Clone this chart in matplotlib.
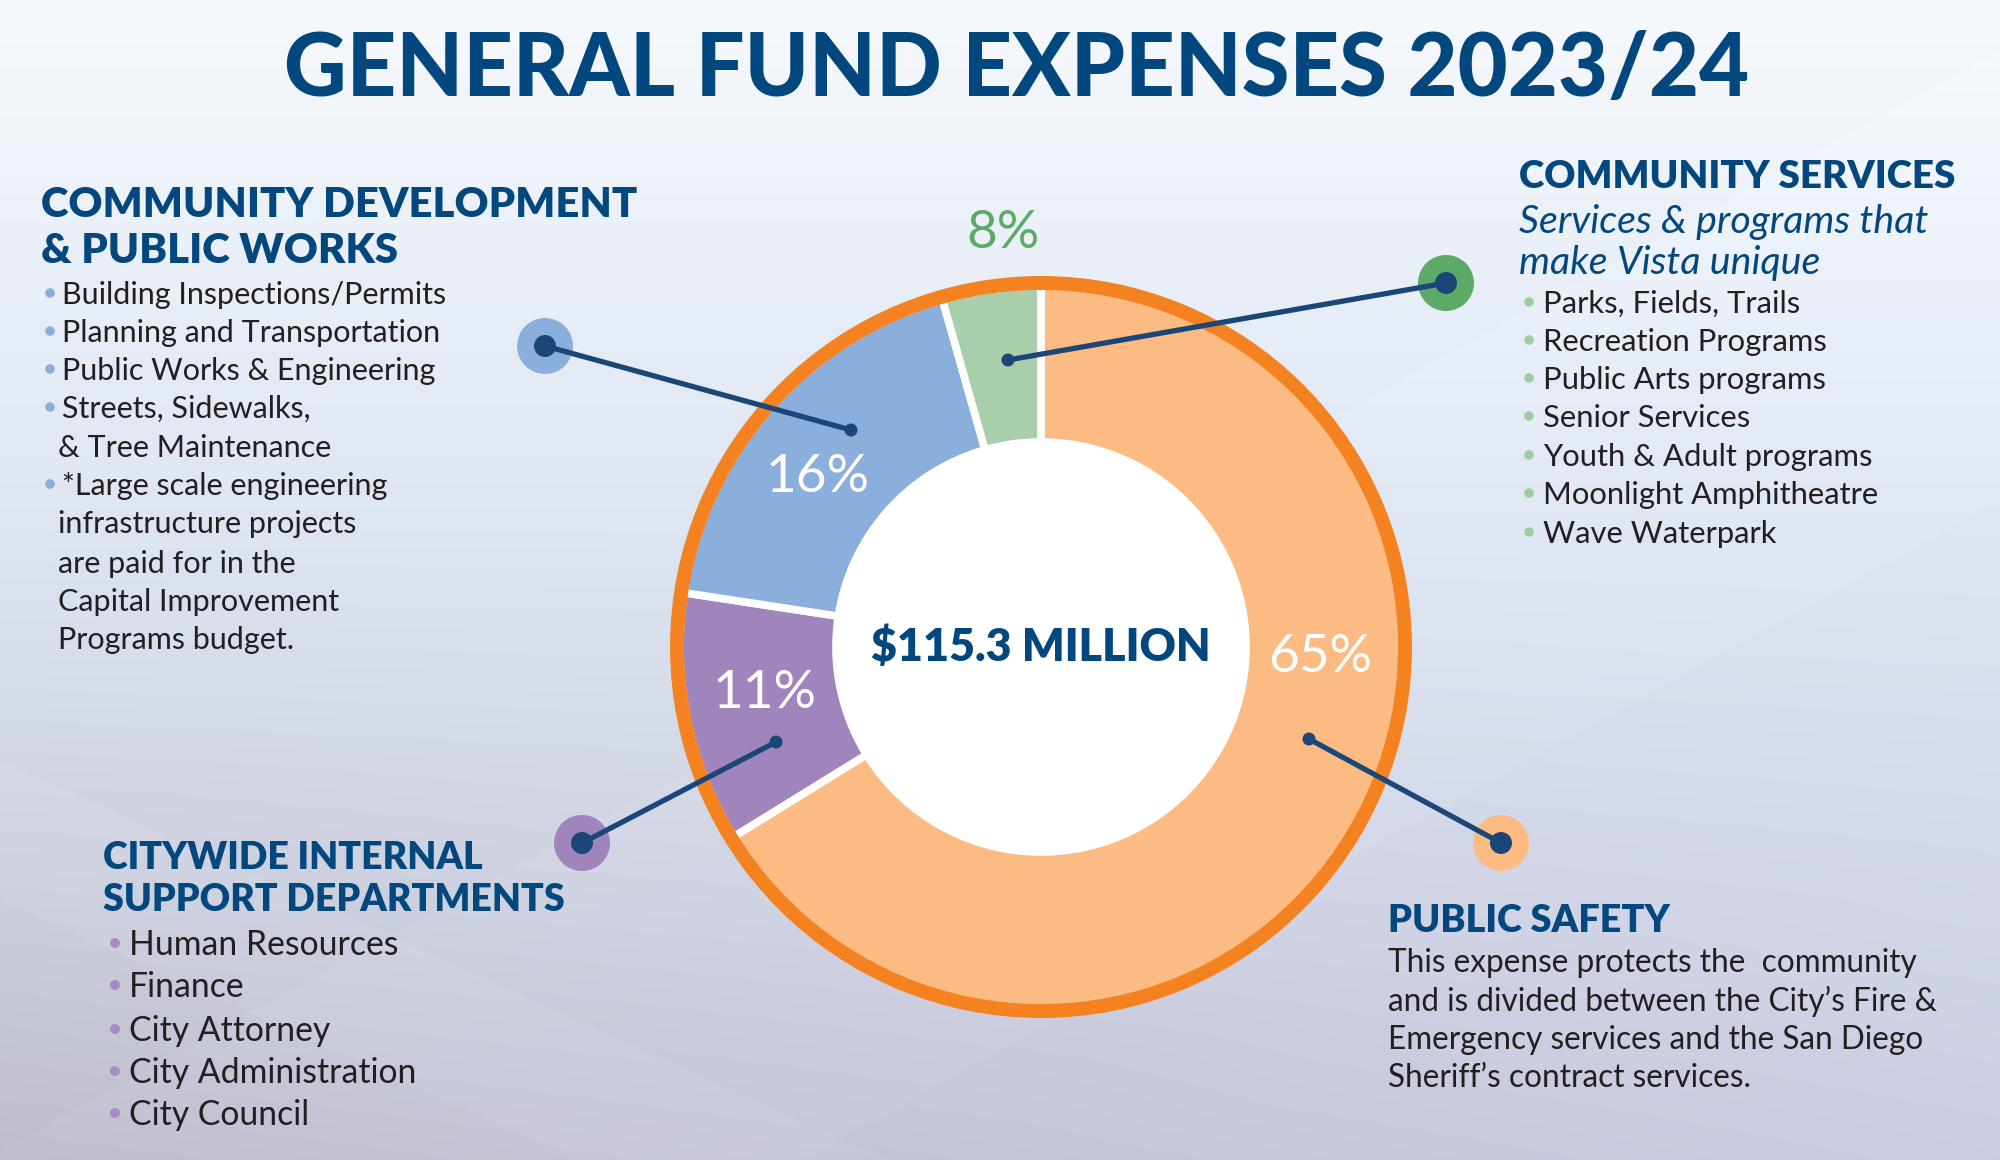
import numpy as np
import matplotlib
matplotlib.use("Agg")
import matplotlib.pyplot as plt
from matplotlib.patches import Circle, Wedge

# ---------------- data ----------------
title = "GENERAL FUND EXPENSES 2023/24"
center_label = "$115.3 MILLION"
categories = ["Public Safety", "Citywide Internal Support Departments",
              "Community Development & Public Works", "Community Services"]
pct_labels = ["65%", "11%", "16%", "8%"]
wedge_share = [66.2, 11.2, 18.2, 4.4]

cdpw_heading = ["COMMUNITY DEVELOPMENT", "& PUBLIC WORKS"]
cdpw_items = [["Building Inspections/Permits"],
              ["Planning and Transportation"],
              ["Public Works & Engineering"],
              ["Streets, Sidewalks,", "& Tree Maintenance"],
              ["*Large scale engineering", "infrastructure projects",
               "are paid for in the", "Capital Improvement", "Programs budget."]]
cs_heading = ["COMMUNITY SERVICES"]
cs_sub = ["Services & programs that", "make Vista unique"]
cs_items = ["Parks, Fields, Trails", "Recreation Programs", "Public Arts programs",
            "Senior Services", "Youth & Adult programs", "Moonlight Amphitheatre",
            "Wave Waterpark"]
cisd_heading = ["CITYWIDE INTERNAL", "SUPPORT DEPARTMENTS"]
cisd_items = ["Human Resources", "Finance", "City Attorney",
              "City Administration", "City Council"]
ps_heading = ["PUBLIC SAFETY"]
ps_text = ["This expense protects the  community",
           "and is divided between the City\u2019s Fire &",
           "Emergency services and the San Diego",
           "Sheriff\u2019s contract services."]

# ---------------- style ----------------
W, H = 2000, 1160
NAVY = "#03477F"
DOT = "#1B4678"
INK = "#231F20"
wedge_colors = ["#FDBB84", "#A084BC", "#8BAFDD", "#A9CEAB"]
ring_color = "#F58220"
big_colors = ["#FDBB84", "#A084BC", "#8BAFDD", "#5DAA68"]
bullet_colors = {"cdpw": "#8BAFDD", "cs": "#9FCCA2", "cisd": "#A98BC6"}
HEAD = ["Lato", "DejaVu Sans"]
BODY = ["Lato", "DejaVu Sans"]

fig = plt.figure(figsize=(W / 100, H / 100), dpi=100)
ax = fig.add_axes([0, 0, 1, 1])
ax.set_xlim(0, W)
ax.set_ylim(0, H)
ax.set_aspect("equal")
ax.axis("off")

def Y(y):
    return H - y

# background gradient
yy, xx = np.mgrid[0:H, 0:W]
t = yy / H
s = xx / W
top = np.array([0.965, 0.978, 0.992])
mid = np.array([0.870, 0.900, 0.948])
botL = np.array([0.745, 0.742, 0.805])
botR = np.array([0.795, 0.805, 0.890])
bot = botL[None, None, :] * (1 - s[..., None]) + botR[None, None, :] * s[..., None]
tt = t[..., None]
img = np.where(tt < 0.45,
               top * (1 - tt / 0.45) + mid * (tt / 0.45),
               mid * (1 - (tt - 0.45) / 0.55) + bot * ((tt - 0.45) / 0.55))
# subtle diagonal facets
d1 = (xx * 0.55 + yy)
img = img + 0.008 * ((d1 > 1150) & (d1 < 1600))[..., None]
d2 = (yy - xx * 0.45)
img = img + 0.010 * ((d2 > 760) & (d2 < 900))[..., None]
img = np.clip(img, 0, 1)
ax.imshow(img, extent=[0, W, 0, H], origin="upper", zorder=0, aspect="auto")

renderer = fig.canvas.get_renderer()

def width_of(txt):
    return txt.get_window_extent(renderer=renderer).width

def fit_block(texts, ref_index, target_w):
    k = target_w / width_of(texts[ref_index])
    for tx in texts:
        tx.set_fontsize(tx.get_fontsize() * k)

# ---------------- donut ----------------
cx, cy = 1041, 647
R_pie, hole = 361, 205
wedges, _ = ax.pie(wedge_share, colors=wedge_colors, startangle=90, counterclock=False,
                   radius=R_pie, center=(cx, Y(cy)), frame=True,
                   wedgeprops=dict(width=R_pie - hole, edgecolor="white", linewidth=5.5))
ax.set_xlim(0, W)
ax.set_ylim(0, H)
ax.axis("off")
for w in wedges:
    w.set_zorder(2)
ax.add_patch(Circle((cx, Y(cy)), hole + 2, facecolor="white", edgecolor="none", zorder=3))
ax.add_patch(Wedge((cx, Y(cy)), 371, 0, 360, width=14, facecolor=ring_color,
                   edgecolor="none", zorder=4))

# percentage labels
pct_pos = [(1320, 658), (765, 694), (818, 478), (1003, 233)]
pct_col = ["white", "white", "white", "#5DAA68"]
pct_txt = []
for lab, (px, py), c in zip(pct_labels, pct_pos, pct_col):
    pct_txt.append(ax.text(px, Y(py), lab, ha="center", va="center", color=c,
                           fontsize=40, family=BODY, zorder=6))
fit_block(pct_txt, 0, 104)

ct = ax.text(cx, Y(647), center_label, ha="center", va="center", color=NAVY,
             fontsize=30, family=HEAD, fontweight="heavy", zorder=6)
fit_block([ct], 0, 339)

# leaders: (big circle pos, inner point)
leaders = [((1501, 843), (1309, 739)),
           ((582, 843), (776, 742)),
           ((545, 346), (851, 430)),
           ((1446, 283), (1008, 360))]
for (b, p), bc in zip(leaders, big_colors):
    ax.add_patch(Circle((b[0], Y(b[1])), 28, facecolor=bc, edgecolor="none", zorder=5))
    ax.plot([b[0], p[0]], [Y(b[1]), Y(p[1])], color=DOT, lw=3.8, zorder=6,
            solid_capstyle="round")
    ax.add_patch(Circle((b[0], Y(b[1])), 11, facecolor=DOT, edgecolor="none", zorder=7))
    ax.add_patch(Circle((p[0], Y(p[1])), 6.5, facecolor=DOT, edgecolor="none", zorder=7))

# ---------------- title ----------------
tt_ = ax.text(1017, Y(70), title, ha="center", va="center", color=NAVY,
              fontsize=60, family=HEAD, fontweight="black", zorder=6)
fit_block([tt_], 0, 1467)

# ---------------- text blocks ----------------
def heading(lines, x, ys, ref, target_w):
    ts = [ax.text(x, Y(y), l, ha="left", va="center", color=NAVY, fontsize=28,
                  family=HEAD, fontweight="heavy", zorder=6) for l, y in zip(lines, ys)]
    fit_block(ts, ref, target_w)
    return ts

# Community Development & Public Works
heading(cdpw_heading, 41, [205, 251], 0, 596)
ys = [295, 333, 371, 409, 448, 486, 524, 564, 602, 640]
ts = []
i = 0
for item in cdpw_items:
    for j, line in enumerate(item):
        y = ys[i]
        if j == 0:
            ax.add_patch(Circle((50, Y(y - 2)), 4.8, facecolor=bullet_colors["cdpw"],
                                edgecolor="none", zorder=6))
            ts.append(ax.text(62, Y(y), line, ha="left", va="center", color=INK,
                              fontsize=22, family=BODY, zorder=6))
        else:
            ts.append(ax.text(58, Y(y), line, ha="left", va="center", color=INK,
                              fontsize=22, family=BODY, zorder=6))
        i += 1
fit_block(ts, 0, 383)

# Community Services
heading(cs_heading, 1519, [177], 0, 436)
sub = [ax.text(1519, Y(y), l, ha="left", va="center", color=NAVY, fontsize=24,
               family=BODY, style="italic", zorder=6) for l, y in zip(cs_sub, [222, 263])]
fit_block(sub, 0, 410)
ys = [304, 342, 380, 418, 457, 495, 534]
ts = []
for line, y in zip(cs_items, ys):
    ax.add_patch(Circle((1529, Y(y - 2)), 4.8, facecolor=bullet_colors["cs"],
                        edgecolor="none", zorder=6))
    ts.append(ax.text(1543, Y(y), line, ha="left", va="center", color=INK,
                      fontsize=22, family=BODY, zorder=6))
fit_block(ts, 5, 335)

# Citywide Internal Support
heading(cisd_heading, 103, [858, 900], 1, 462)
ys = [945, 987, 1031, 1073, 1115]
ts = []
for line, y in zip(cisd_items, ys):
    ax.add_patch(Circle((115, Y(y - 2)), 5, facecolor=bullet_colors["cisd"],
                        edgecolor="none", zorder=6))
    ts.append(ax.text(129, Y(y), line, ha="left", va="center", color=INK,
                      fontsize=24, family=BODY, zorder=6))
fit_block(ts, 3, 288)

# Public Safety
heading(ps_heading, 1388, [921], 0, 282)
ts = [ax.text(1388, Y(y), l, ha="left", va="center", color=INK, fontsize=22,
              family=BODY, zorder=6) for l, y in zip(ps_text, [963, 1001, 1040, 1078])]
fit_block(ts, 1, 548)

fig.savefig("out.png", dpi=100)
